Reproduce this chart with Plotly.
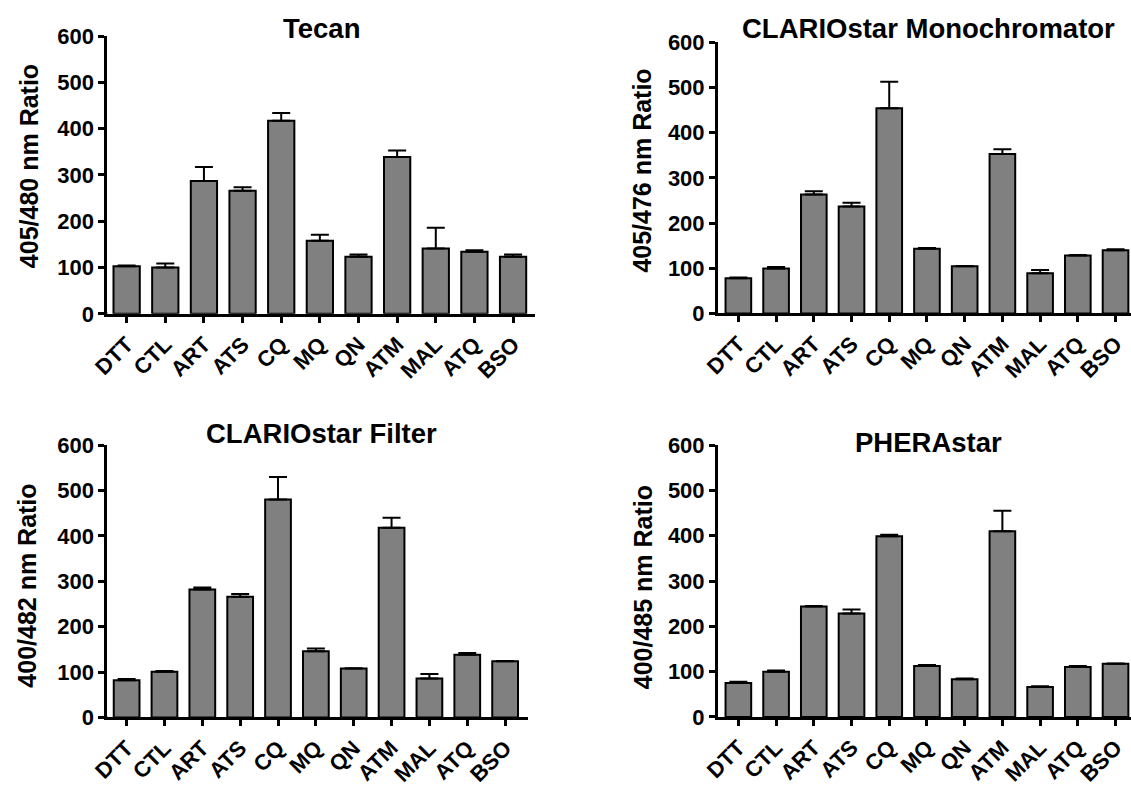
import plotly.graph_objects as go

categories = ["DTT", "CTL", "ART", "ATS", "CQ", "MQ", "QN", "ATM", "MAL", "ATQ", "BSO"]

tecan = [103, 100, 287, 266, 417, 158, 123.5, 339, 141, 134, 123.5]
tecan_err = [1.5, 9, 30, 7.5, 17, 13, 5, 14, 45, 3.5, 4.5]

mono = [78, 99.5, 263, 236.5, 454, 143, 104.5, 353, 89, 128, 140]
mono_err = [1.5, 3, 7.5, 8.5, 59, 1.5, 0.5, 10.5, 7, 1, 2]

filt = [82, 100.5, 282, 266, 480, 146, 108, 418, 86, 138, 124]
filt_err = [2.5, 2, 4.5, 6, 49.5, 6, 0.5, 22, 10, 4, 0.5]

phera = [75, 100, 244, 228.5, 399, 112.5, 83, 410, 66, 110.5, 117.5]
phera_err = [2.5, 2.5, 1, 8.5, 3, 2, 2, 45, 2, 2, 0.5]

titles = ["Tecan", "CLARIOstar Monochromator", "CLARIOstar Filter", "PHERAstar"]
ytitles = ["405/480 nm Ratio", "405/476 nm Ratio", "400/482 nm Ratio", "400/485 nm Ratio"]
y_ticks = [0, 100, 200, 300, 400, 500, 600]

W, H = 1131, 787
FONT = "Liberation Sans, Arial, sans-serif"

# pixel layout of each plot area: left, right, top(600), bottom(0), x-range
panels = [
    dict(l=91.7, r=526, t=25, b=313, xr=[-0.5, 10.57], tx=309, ty=17, ytx=12, yty=160),
    dict(l=711.7, r=1131, t=31.5, b=312.5, xr=[-0.54, 10.41], tx=925, ty=17, ytx=635, yty=164),
    dict(l=91.7, r=519, t=449, b=731.5, xr=[-0.51, 10.61], tx=309, ty=437, ytx=10, yty=595),
    dict(l=711.7, r=1131, t=449, b=731, xr=[-0.54, 10.41], tx=925, ty=446, ytx=635, yty=596),
]
values = [tecan, mono, filt, phera]
errors = [tecan_err, mono_err, filt_err, phera_err]

tick_font = dict(family=FONT, size=22, color="black")

fig = go.Figure()
annotations = []
shapes = []
for i, (p, v, e) in enumerate(zip(panels, values, errors)):
    n = "" if i == 0 else str(i + 1)
    fig.add_trace(go.Bar(
        x=categories, y=v,
        xaxis="x" + n, yaxis="y" + n,
        marker=dict(color="#808080", line=dict(color="black", width=2)),
        error_y=dict(type="data", symmetric=False, array=e,
                     arrayminus=[0] * len(e), color="black",
                     thickness=2, width=9),
        showlegend=False,
    ))
    xa = dict(
        domain=[p["l"] / W, min(p["r"] / W, 1.0)],
        anchor="y" + n, type="category", range=p["xr"],
        tickvals=categories, ticktext=["<b>%s</b>" % c for c in categories],
        showline=True, linewidth=3, linecolor="black",
        ticks="outside", ticklen=6, tickwidth=3, tickcolor="black",
        tickangle=-45, showgrid=False, zeroline=False,
        tickfont=tick_font, fixedrange=True,
    )
    ya = dict(
        domain=[1 - p["b"] / H, 1 - p["t"] / H],
        anchor="x" + n, range=[0, 600],
        tickvals=y_ticks, ticktext=["<b>%d</b>" % t for t in y_ticks],
        showline=True, linewidth=3, linecolor="black",
        ticks="outside", ticklen=6, tickwidth=3, tickcolor="black",
        showgrid=False, zeroline=False,
        tickfont=tick_font, fixedrange=True,
    )
    fig.update_layout(**{"xaxis" + n: xa, "yaxis" + n: ya})
    # x-axis line continues a little to the left of the y axis (Prism style)
    shapes.append(dict(
        type="line", xref="paper", yref="y" + n,
        x0=(p["l"] - 7) / W, x1=p["l"] / W, y0=0, y1=0,
        line=dict(color="black", width=3), layer="above",
        ysizemode="scaled",
    ))
    annotations.append(dict(
        text="<b>%s</b>" % titles[i], xref="paper", yref="paper",
        x=p["tx"] / W, y=1 - p["ty"] / H, xanchor="center", yanchor="middle",
        showarrow=False,
        font=dict(family=FONT, size=27.5, color="black"),
    ))
    annotations.append(dict(
        text="<b>%s</b>" % ytitles[i], xref="paper", yref="paper",
        x=p["ytx"] / W, y=1 - p["yty"] / H, xanchor="center", yanchor="middle",
        textangle=-90, showarrow=False,
        font=dict(family=FONT, size=25, color="black"),
    ))

fig.update_layout(
    width=W, height=H,
    margin=dict(l=0, r=0, t=0, b=0),
    paper_bgcolor="white", plot_bgcolor="white",
    bargap=0.32,
    annotations=annotations,
    shapes=shapes,
)

fig.write_html("out.html", config={"displayModeBar": False})
